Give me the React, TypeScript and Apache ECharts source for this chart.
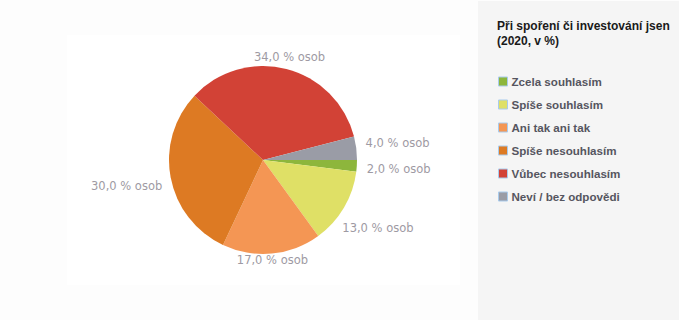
import React, { useEffect, useRef } from "react";
import * as echarts from "echarts";

const categories = [
  "Zcela souhlasím",
  "Spíše souhlasím",
  "Ani tak ani tak",
  "Spíše nesouhlasím",
  "Vůbec nesouhlasím",
  "Neví / bez odpovědi",
];
const values = [2, 13, 17, 30, 34, 4];
const colors = ["#8db63c", "#dfe066", "#f49654", "#dd7a23", "#d24236", "#9a9ca6"];
const titleText = "Při spoření či investování jsen\n(2020, v %)";

const CX = 263;
const CY = 160;
const R = 94;

export default function App() {
  const ref = useRef<HTMLDivElement>(null);
  useEffect(() => {
    if (!ref.current) return;
    const chart = echarts.init(ref.current, null, { renderer: "svg" });
    const total = values.reduce((a, b) => a + b, 0);
    chart.setOption({
      animation: false,
      backgroundColor: "#fdfdfd",
      graphic: [
        { type: "rect", shape: { x: 67, y: 35, width: 393, height: 250 }, style: { fill: "#ffffff" }, silent: true },
        { type: "rect", shape: { x: 478, y: 1, width: 201, height: 319 }, style: { fill: "#f5f5f5" }, silent: true },
      ],
      title: {
        text: titleText,
        left: 497,
        top: 18,
        padding: 0,
        textStyle: {
          fontFamily: "Liberation Sans, Arial, sans-serif",
          fontSize: 12,
          fontWeight: "bold",
          color: "#1a1a1a",
          lineHeight: 15,
        },
      },
      legend: {
        orient: "vertical",
        left: 498,
        top: 75,
        padding: 0,
        itemWidth: 9,
        itemHeight: 9,
        itemGap: 10,
        icon: "rect",
        data: categories,
        itemStyle: { borderColor: "#a9cbec", borderWidth: 1 },
        textStyle: {
          fontFamily: "Liberation Sans, Arial, sans-serif",
          fontSize: 11.6,
          lineHeight: 13,
          fontWeight: "bold",
          color: "#555560",
          padding: [0, 0, 0, -1],
        },
      },
      series: [
        {
          type: "pie",
          center: [CX, CY],
          radius: R,
          startAngle: 0,
          clockwise: true,
          color: colors,
          itemStyle: { borderWidth: 0 },
          emphasis: { disabled: true },
          label: {
            show: true,
            position: "outside",
            fontFamily: "DejaVu Sans, Verdana, sans-serif",
            fontSize: 11.5,
            color: "#9e9aa3",
            formatter: (p: any) => `${Number(p.value).toFixed(1).replace(".", ",")} % osob`,
          },
          labelLine: { show: false, length: 4, length2: 4 },
          labelLayout: (p: any) => {
            const i = p.dataIndex;
            let before = 0;
            for (let k = 0; k < i; k++) before += values[k];
            const mid = ((before + values[i] / 2) / total) * Math.PI * 2;
            const c = Math.cos(mid);
            const s = Math.sin(mid);
            const hw = p.labelRect.width / 2;
            const D = R + 2 + Math.abs(c) * (hw + 8);
            return { x: CX + D * c, y: CY + D * s, align: "center", verticalAlign: "middle" };
          },
          data: categories.map((name, i) => ({ name, value: values[i] })),
        },
      ],
    });
    return () => chart.dispose();
  }, []);
  return <div ref={ref} style={{ position: "fixed", left: 0, top: 0, width: 679, height: 320 }} />;
}
